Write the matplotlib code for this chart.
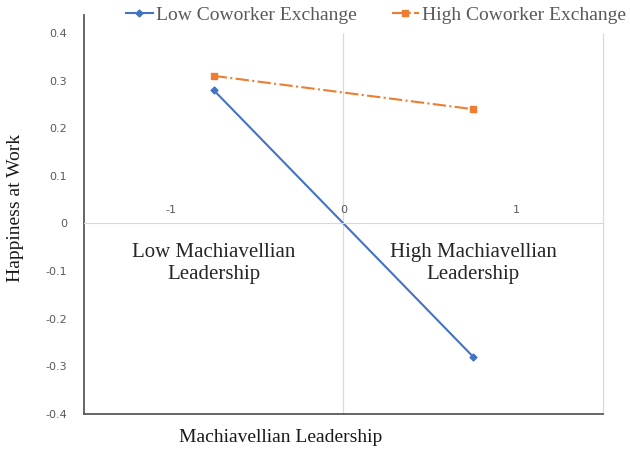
import matplotlib.pyplot as plt

# data
x_levels = [-0.75, 0.75]
low_exchange = [0.28, -0.28]
high_exchange = [0.31, 0.24]
y_ticks = [-0.4, -0.3, -0.2, -0.1, 0, 0.1, 0.2, 0.3, 0.4]
y_tick_labels = ['-0.4', '-0.3', '-0.2', '-0.1', '0', '0.1', '0.2', '0.3', '0.4']
x_ticks = [-1, 0, 1]
x_tick_labels = ['-1', '0', '1']

blue = '#4472C4'
orange = '#ED7D31'
serif = 'Liberation Serif'

fig = plt.figure(figsize=(6.3, 4.53), dpi=100)
ax = fig.add_axes([0.1333, 0.0861, 0.8238, 0.881])

ax.plot(x_levels, low_exchange, color=blue, lw=1.5, marker='D', ms=3.5,
        label='Low Coworker Exchange')
ax.plot(x_levels, high_exchange, color=orange, lw=1.5, ls='-.', marker='s', ms=5,
        label='High Coworker Exchange')

ax.set_xlim(-1.5, 1.5)
ax.set_ylim(-0.4, 0.438)

# light gridlines
ax.vlines([0, 1.5], -0.4, 0.4, color='#d9d9d9', lw=0.9, zorder=0, clip_on=False)

ax.spines['right'].set_visible(False)
ax.spines['top'].set_position(('data', 0))
ax.spines['top'].set_color('#d9d9d9')
ax.spines['left'].set_color('#595959')
ax.spines['left'].set_linewidth(1.3)
ax.spines['bottom'].set_color('#595959')
ax.spines['bottom'].set_linewidth(1.3)

ax.xaxis.tick_top()
ax.set_xticks(x_ticks)
ax.set_xticklabels(x_tick_labels)
ax.set_yticks(y_ticks)
ax.set_yticklabels(y_tick_labels)
ax.tick_params(length=0, colors='#595959', labelsize=8)
ax.tick_params(axis='y', pad=12)
ax.tick_params(axis='x', pad=6)

ax.text(-0.75, -0.084, 'Low Machiavellian\nLeadership', ha='center', va='center',
        fontsize=15, family=serif, linespacing=1.2, color='#262626')
ax.text(0.75, -0.084, 'High Machiavellian\nLeadership', ha='center', va='center',
        fontsize=15, family=serif, linespacing=1.2, color='#262626')

fig.text(0.024, 0.541, 'Happiness at Work', rotation=90, ha='center', va='center',
         fontsize=14, family=serif, color='#1a1a1a')
fig.text(0.446, 0.035, 'Machiavellian Leadership', ha='center', va='center',
         fontsize=14, family=serif, color='#1a1a1a')

leg = ax.legend(loc='center', bbox_to_anchor=(0.562, 1.0), ncol=2, frameon=False,
                prop={'family': serif, 'size': 14}, handlelength=1.4,
                handletextpad=0.15, columnspacing=1.8, borderaxespad=0)
for t in leg.get_texts():
    t.set_color('#595959')

fig.savefig('out.png', dpi=100)
